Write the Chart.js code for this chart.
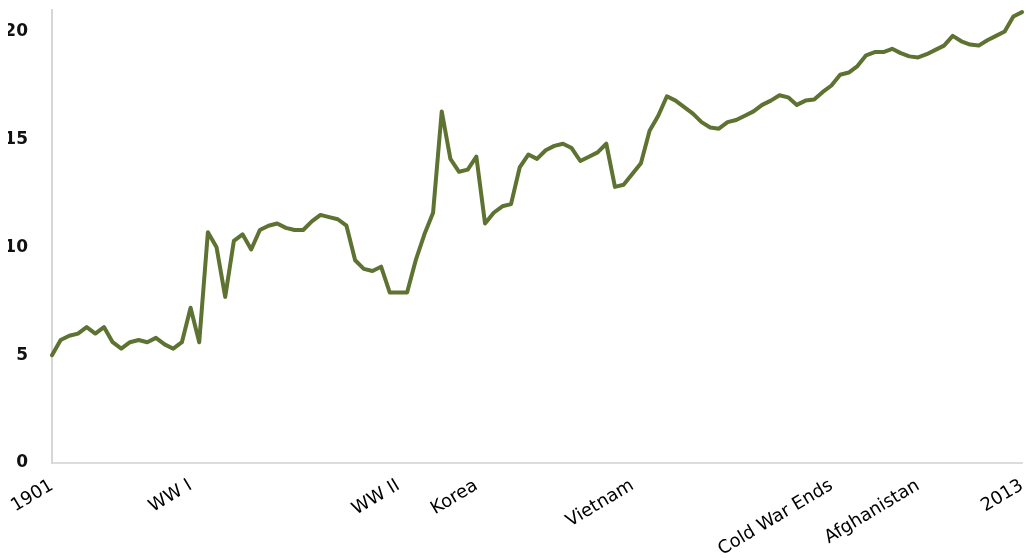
<!DOCTYPE html>
<html>
<head>
<meta charset="utf-8">
<script src="https://cdn.jsdelivr.net/npm/chart.js@4/dist/chart.umd.min.js"></script>
<style>
  html, body { margin: 0; padding: 0; background: #fff; }
  #wrap { width: 1026px; height: 558px; position: relative; }
</style>
</head>
<body>
<div id="wrap"><canvas id="chart"></canvas></div>
<script>
const firstYear = 1901;
const lastYear = 2013;

// one value per year, 1901..2013
const values = [
    5.0, 5.7, 5.9, 6.0, 6.3, 6.0, 6.3, 5.6, 5.3, 5.6,
    5.7, 5.6, 5.8, 5.5, 5.3, 5.6, 7.2, 5.6, 10.7, 10.0,
    7.7, 10.3, 10.6, 9.9, 10.8, 11.0, 11.1, 10.9, 10.8, 10.8,
    11.2, 11.5, 11.4, 11.3, 11.0, 9.4, 9.0, 8.9, 9.1, 7.9,
    7.9, 7.9, 9.4, 10.6, 11.6, 16.3, 14.1, 13.5, 13.6, 14.2,
    11.1, 11.6, 11.9, 12.0, 13.7, 14.3, 14.1, 14.5, 14.7, 14.8,
    14.6, 14.0, 14.2, 14.4, 14.8, 12.8, 12.9, 13.4, 13.9, 15.4,
    16.1, 17.0, 16.8, 16.5, 16.2, 15.8, 15.55, 15.5, 15.8, 15.9,
    16.1, 16.3, 16.6, 16.8, 17.05, 16.95, 16.6, 16.8, 16.85, 17.2,
    17.5, 18.0, 18.1, 18.4, 18.9, 19.05, 19.05, 19.2, 19.0, 18.85,
    18.8, 18.95, 19.15, 19.35, 19.8, 19.55, 19.4, 19.35, 19.6, 19.8,
    20.0, 20.7, 20.9
];

const eventYears = [1901, 1917, 1941, 1950, 1968, 1991, 2001, 2013];
const eventLabels = ['1901', 'WW I', 'WW II', 'Korea', 'Vietnam', 'Cold War Ends', 'Afghanistan', '2013'];

const yTicks = [0, 5, 10, 15, 20];

const years = [];
for (let y = firstYear; y <= lastYear; y++) years.push(y);

const ctx = document.getElementById('chart').getContext('2d');
new Chart(ctx, {
    type: 'line',
    data: {
        labels: years,
        datasets: [{
            data: values,
            borderColor: '#5e7231',
            borderWidth: 4,
            borderJoinStyle: 'round',
            borderCapStyle: 'round',
            pointRadius: 0,
            tension: 0,
            fill: false,
        }],
    },
    options: {
        responsive: true,
        maintainAspectRatio: false,
        animation: false,
        layout: { padding: { left: 8, top: 10, right: 4, bottom: 0 } },
        plugins: {
            legend: { display: false },
            tooltip: { enabled: false },
        },
        scales: {
            x: {
                offset: false,
                grid: { display: false },
                border: { display: true, color: '#dcdcdc', width: 2 },
                afterFit: (axis) => {
                    axis.height = 95;
                    axis.paddingLeft = 0;
                    axis.paddingRight = 0;
                },
                ticks: {
                    autoSkip: false,
                    minRotation: 31,
                    maxRotation: 31,
                    padding: 4,
                    color: '#000',
                    font: { family: 'DejaVu Sans', size: 18 },
                    callback: function (val, idx) {
                        const i = eventYears.indexOf(years[idx]);
                        return i >= 0 ? eventLabels[i] : '';
                    },
                },
            },
            y: {
                min: 0,
                max: 21,
                grid: { display: false },
                border: { display: true, color: '#d6d6d6', width: 2 },
                afterBuildTicks: (axis) => {
                    axis.ticks = yTicks.map(v => ({ value: v }));
                },
                afterFit: (axis) => {
                    axis.width = 44;
                    axis.paddingTop = 0;
                    axis.paddingBottom = 0;
                },
                ticks: {
                    padding: 16,
                    color: '#111',
                    font: { family: 'DejaVu Sans', size: 17, weight: 'bold' },
                },
            },
        },
    },
});
</script>
</body>
</html>
